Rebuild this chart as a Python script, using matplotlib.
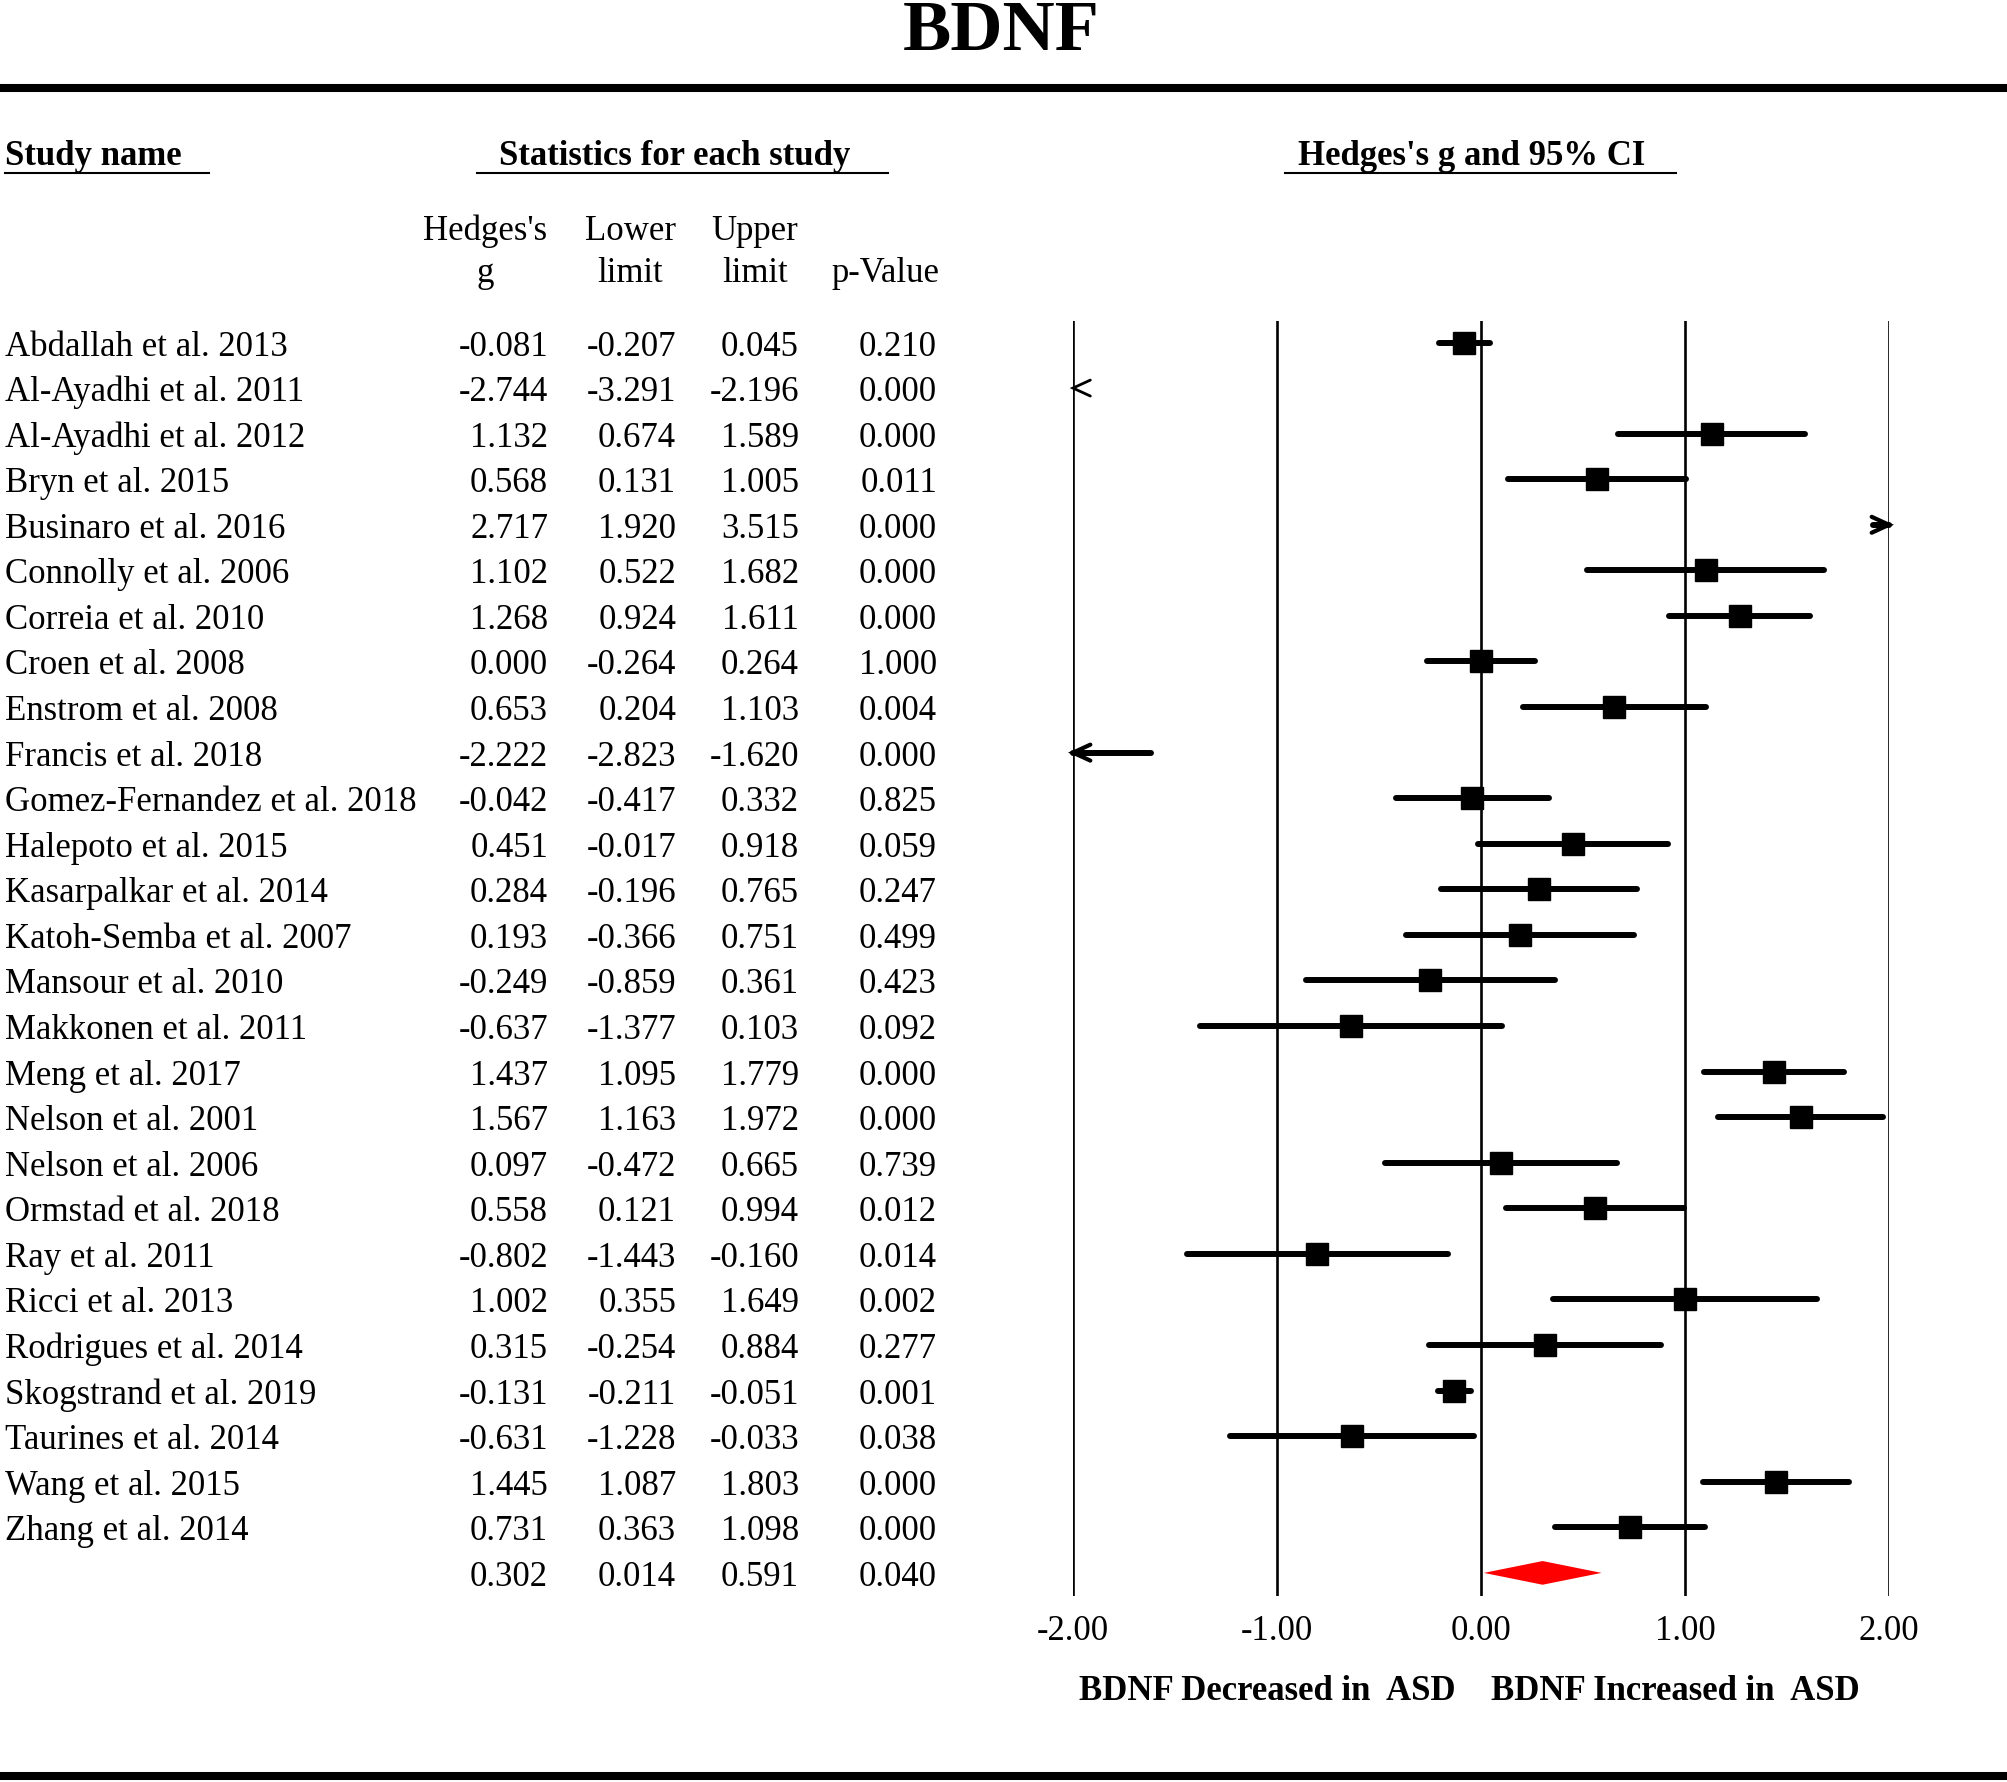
import numpy as np
import matplotlib
matplotlib.use("Agg")
import matplotlib.pyplot as plt
import matplotlib.transforms as mtransforms
from matplotlib.lines import Line2D

plt.rcParams['font.family'] = ['Liberation Serif', 'DejaVu Serif']

# ---------------- data ----------------
title = "BDNF"
studies = [
    "Abdallah et al. 2013", "Al-Ayadhi et al. 2011", "Al-Ayadhi et al. 2012",
    "Bryn et al. 2015", "Businaro et al. 2016", "Connolly et al. 2006",
    "Correia et al. 2010", "Croen et al. 2008", "Enstrom et al. 2008",
    "Francis et al. 2018", "Gomez-Fernandez et al. 2018", "Halepoto et al. 2015",
    "Kasarpalkar et al. 2014", "Katoh-Semba et al. 2007", "Mansour et al. 2010",
    "Makkonen et al. 2011", "Meng et al. 2017", "Nelson et al. 2001",
    "Nelson et al. 2006", "Ormstad et al. 2018", "Ray et al. 2011",
    "Ricci et al. 2013", "Rodrigues et al. 2014", "Skogstrand et al. 2019",
    "Taurines et al. 2014", "Wang et al. 2015", "Zhang et al. 2014",
]
hedges_g = [-0.081, -2.744, 1.132, 0.568, 2.717, 1.102, 1.268, 0.000, 0.653,
            -2.222, -0.042, 0.451, 0.284, 0.193, -0.249, -0.637, 1.437, 1.567,
            0.097, 0.558, -0.802, 1.002, 0.315, -0.131, -0.631, 1.445, 0.731]
lower = [-0.207, -3.291, 0.674, 0.131, 1.920, 0.522, 0.924, -0.264, 0.204,
         -2.823, -0.417, -0.017, -0.196, -0.366, -0.859, -1.377, 1.095, 1.163,
         -0.472, 0.121, -1.443, 0.355, -0.254, -0.211, -1.228, 1.087, 0.363]
upper = [0.045, -2.196, 1.589, 1.005, 3.515, 1.682, 1.611, 0.264, 1.103,
         -1.620, 0.332, 0.918, 0.765, 0.751, 0.361, 0.103, 1.779, 1.972,
         0.665, 0.994, -0.160, 1.649, 0.884, -0.051, -0.033, 1.803, 1.098]
p_value = [0.210, 0.000, 0.000, 0.011, 0.000, 0.000, 0.000, 1.000, 0.004,
           0.000, 0.825, 0.059, 0.247, 0.499, 0.423, 0.092, 0.000, 0.000,
           0.739, 0.012, 0.014, 0.002, 0.277, 0.001, 0.038, 0.000, 0.000]
summary_g, summary_lower, summary_upper, summary_p = 0.302, 0.014, 0.591, 0.040
ticks = [-2, -1, 0, 1, 2]
tick_labels = ["-2.00", "-1.00", "0.00", "1.00", "2.00"]
left_label = "BDNF Decreased in  ASD"
right_label = "BDNF Increased in  ASD"
col_headers = [("Hedges's", "g"), ("Lower", "limit"), ("Upper", "limit"), ("", "p-Value")]

# ---------------- layout ----------------
W, H, DPI = 2007, 1783, 100
FS = 25
fig = plt.figure(figsize=(W / DPI, H / DPI), dpi=DPI)

def fx(px):
    return px / W

def fy(py):
    return 1 - py / H

ax_left, ax_right, ax_top, ax_bottom = 1073, 1889, 322, 1597
row0, row_step = 343.5, 45.57
ax = fig.add_axes([fx(ax_left), fy(ax_bottom), (ax_right - ax_left) / W,
                   (ax_bottom - ax_top) / H])
ax.set_xlim(-2, 2)
ax.set_ylim((ax_bottom - row0) / row_step, (ax_top - row0) / row_step)
ax.set_frame_on(False)
ax.set_yticks([])
ax.set_xticks(ticks, tick_labels)
ax.tick_params(axis='x', length=0, pad=13, labelsize=FS)

for t in ticks:
    ax.axvline(t, color='black', lw=1.9, zorder=1)

n = len(studies)
xmin, xmax = -2, 2
ah_dx, ah_dy = 0.085, 0.175

def arrowhead(x_tip, r, direction, lw):
    ax.plot([x_tip - direction * ah_dx, x_tip, x_tip - direction * ah_dx],
            [r - ah_dy, r, r + ah_dy], color='black', lw=lw,
            solid_capstyle='round', solid_joinstyle='miter', clip_on=False, zorder=3)

for i in range(n):
    lo, hi, g = lower[i], upper[i], hedges_g[i]
    if hi < xmin:
        arrowhead(xmin, i, -1, 2.0)
        continue
    if lo > xmax:
        arrowhead(xmax, i, 1, 2.0)
        continue
    lo_c, hi_c = max(lo, xmin), min(hi, xmax)
    ax.plot([lo_c, hi_c], [i, i], color='black', lw=4.3,
            solid_capstyle='round', clip_on=False, zorder=2)
    if lo < xmin:
        arrowhead(xmin, i, -1, 3.0)
    if hi > xmax:
        arrowhead(xmax, i, 1, 3.0)
    if xmin <= g <= xmax:
        ax.plot([g], [i], marker='s', ms=15.5, color='black', mec='black',
                mew=1.0, clip_on=False, zorder=4)

# summary diamond
sr = n
dh = 0.26
ax.fill([summary_lower, summary_g, summary_upper, summary_g],
        [sr, sr - dh, sr, sr + dh], color='red', lw=0, zorder=3)

# ---------------- text table ----------------
row_trans = mtransforms.blended_transform_factory(fig.transFigure, ax.transData) + \
    mtransforms.ScaledTranslation(0, -12 / DPI, fig.dpi_scale_trans)

name_x = 5
col_right = [548, 676, 799, 937]
for i, name in enumerate(studies):
    fig.text(fx(name_x), i, name, transform=row_trans, fontsize=FS,
             ha='left', va='baseline')
    for cx, v in zip(col_right, (hedges_g[i], lower[i], upper[i], p_value[i])):
        fig.text(fx(cx), i, f"{v:.3f}", transform=row_trans, fontsize=FS,
                 ha='right', va='baseline')
for cx, v in zip(col_right, (summary_g, summary_lower, summary_upper, summary_p)):
    fig.text(fx(cx), sr, f"{v:.3f}", transform=row_trans, fontsize=FS,
             ha='right', va='baseline')

# column headers
col_centers = [485, 630, 755, 886]
for cx, (l1, l2) in zip(col_centers, col_headers):
    if l1:
        fig.text(fx(cx), fy(240), l1, fontsize=FS, ha='center', va='baseline')
    fig.text(fx(cx), fy(282), l2, fontsize=FS, ha='center', va='baseline')

# group headers
for txt, x0, ul0, ul1 in [("Study name", 5, 5, 209),
                          ("Statistics for each study", 499, 477, 888),
                          ("Hedges's g and 95% CI", 1298, 1285, 1676)]:
    fig.text(fx(x0), fy(165), txt, fontsize=FS, fontweight='bold',
             ha='left', va='baseline')
    fig.add_artist(Line2D([fx(ul0), fx(ul1)], [fy(174), fy(174)],
                          color='black', lw=1.5, transform=fig.transFigure))

# title
fig.text(fx(1001), fy(50), title, fontsize=52, fontweight='bold',
         ha='center', va='baseline')

# thick rules
for yy in (89, 1777):
    fig.add_artist(Line2D([fx(3), fx(2005)], [fy(yy), fy(yy)], color='black',
                          lw=5.8, transform=fig.transFigure))

# direction labels
fig.text(fx(1267), fy(1700), left_label, fontsize=FS, fontweight='bold',
         ha='center', va='baseline')
fig.text(fx(1675), fy(1700), right_label, fontsize=FS, fontweight='bold',
         ha='center', va='baseline')

fig.savefig("out.png", dpi=DPI)
